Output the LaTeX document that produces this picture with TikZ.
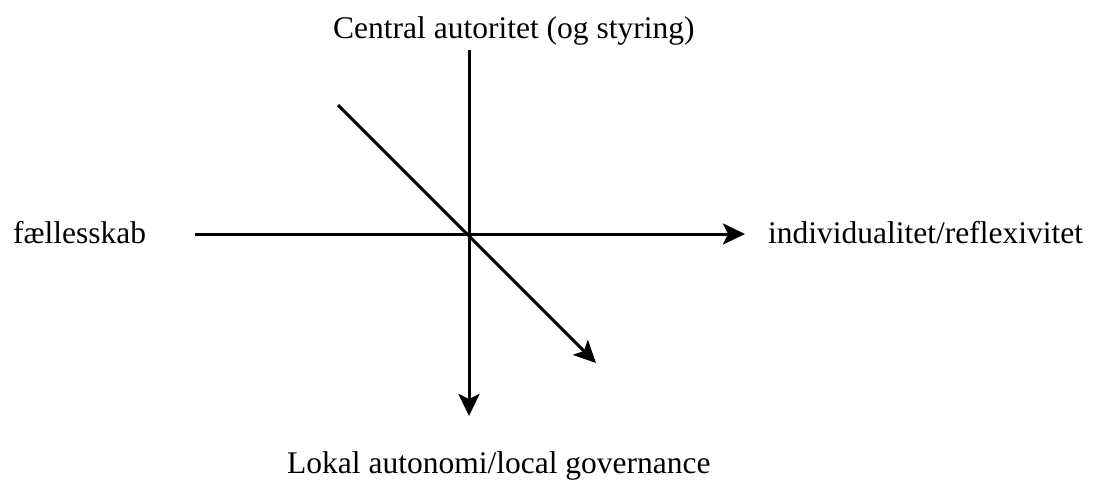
\documentclass[tikz,border=0pt]{standalone}
\usepackage{fontspec}
\setmainfont{Liberation Serif}
\usetikzlibrary{arrows.meta}
\tikzset{
  lbl/.style={inner sep=0pt, anchor=base west, font=\fontsize{31.5}{36}\selectfont},
  axis/.style={line width=3pt, -{Stealth[length=22pt,width=21pt,inset=5pt]}}
}
\begin{document}
\begin{tikzpicture}[x=1pt,y=-1pt]
\useasboundingbox (0,0) rectangle (1094,480);
\node[lbl] (top) at (333,38) {Central autoritet (og styring)};
\node[lbl] (bot) at (287,473) {Lokal autonomi/local governance};
\node[lbl] (left) at (13,243) {fællesskab};
\node[lbl] (right) at (768,243) {individualitet/reflexivitet};
\coordinate (vs) at (469,50);
\coordinate (ve) at (469,416);
\coordinate (hs) at (195,234);
\coordinate (he) at (745,234);
\coordinate (ds) at (338,105);
\coordinate (de) at (596,363);
\draw[axis] (vs) -- (ve);
\draw[axis] (hs) -- (he);
\draw[axis] (ds) -- (de);
\end{tikzpicture}
\end{document}
